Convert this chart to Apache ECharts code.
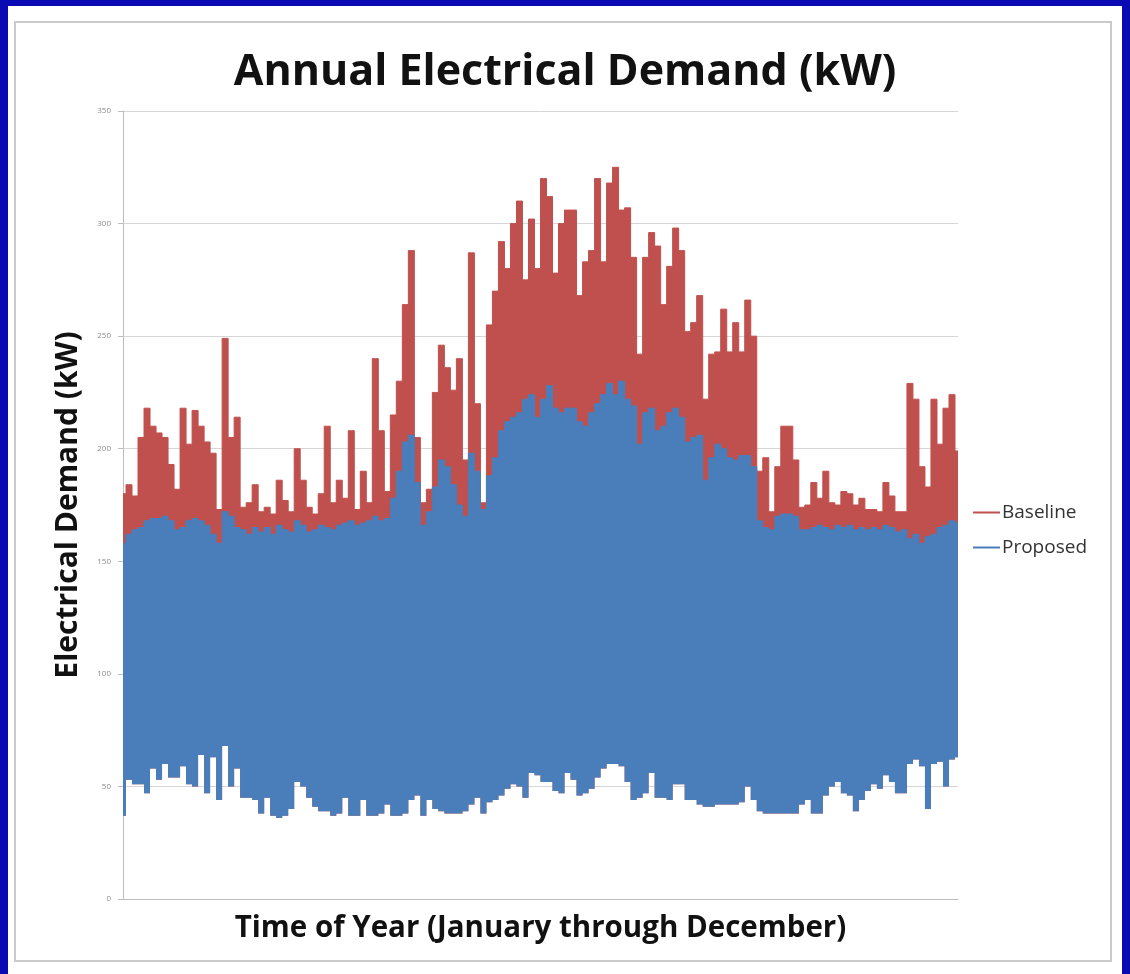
<!DOCTYPE html>
<html>
<head>
<meta charset="utf-8">
<title>Annual Electrical Demand</title>
<script src="https://cdn.jsdelivr.net/npm/echarts@6/dist/echarts.min.js"></script>
<style>
    html, body { margin: 0; padding: 0; }
    body { width: 1130px; height: 974px; background: #0a0ab4; position: relative; overflow: hidden; }
    .slide { position: absolute; left: 8px; top: 6px; width: 1114px; height: 968px; background: #ffffff; }
    .frame { position: absolute; left: 14px; top: 21px; width: 1098px; height: 941px; border: 2px solid #cacaca; box-sizing: border-box; }
    #chart { position: absolute; left: 0; top: 0; width: 1130px; height: 974px; }
</style>
</head>
<body>
<div class="slide"></div>
<div class="frame"></div>
<div id="chart"></div>
<script>
    // samples read across the year, left to right (about every 2.6 days)
    const baselineHigh = [
        180, 184, 179, 205, 218, 210, 207, 205, 193, 182,
        218, 202, 217, 210, 203, 198, 173, 249, 205, 214,
        174, 176, 184, 172, 174, 171, 186, 177, 172, 200,
        186, 174, 171, 180, 210, 176, 186, 178, 208, 173,
        190, 176, 240, 208, 181, 215, 230, 264, 288, 205,
        176, 182, 225, 246, 236, 226, 240, 195, 287, 220,
        176, 255, 270, 292, 280, 300, 310, 275, 302, 280,
        320, 312, 278, 300, 306, 306, 268, 283, 288, 320,
        283, 318, 325, 306, 307, 285, 242, 285, 296, 290,
        264, 281, 298, 288, 252, 256, 268, 222, 242, 243,
        262, 243, 256, 243, 266, 250, 190, 196, 172, 192,
        210, 210, 195, 174, 175, 185, 178, 190, 176, 175,
        181, 180, 175, 178, 173, 173, 172, 185, 179, 172,
        172, 229, 222, 192, 183, 222, 202, 218, 224, 199
    ];
    const proposedHigh = [
        158, 162, 164, 165, 168, 169, 169, 170, 168, 164,
        165, 168, 169, 168, 166, 162, 158, 172, 170, 165,
        164, 162, 165, 163, 165, 162, 166, 164, 163, 168,
        166, 163, 164, 166, 165, 164, 166, 167, 168, 166,
        167, 168, 170, 168, 169, 178, 190, 203, 206, 185,
        166, 172, 183, 195, 192, 184, 175, 170, 198, 190,
        173, 188, 196, 208, 212, 214, 216, 222, 224, 214,
        222, 228, 218, 216, 218, 218, 212, 210, 216, 220,
        224, 229, 224, 230, 222, 219, 202, 216, 218, 208,
        210, 216, 218, 214, 203, 205, 206, 186, 196, 202,
        200, 196, 195, 197, 197, 192, 168, 165, 164, 170,
        171, 171, 170, 164, 164, 165, 166, 165, 164, 166,
        165, 166, 164, 165, 164, 165, 164, 166, 165, 163,
        164, 160, 162, 158, 161, 162, 165, 166, 168, 167
    ];
    const proposedLow = [
        37, 53, 51, 51, 47, 58, 53, 60, 54, 54,
        59, 51, 50, 64, 47, 63, 44, 68, 50, 58,
        45, 45, 44, 38, 45, 37, 36, 37, 40, 52,
        50, 45, 41, 39, 39, 37, 38, 45, 37, 37,
        44, 37, 37, 38, 42, 37, 37, 38, 44, 46,
        37, 44, 40, 39, 38, 38, 38, 39, 42, 45,
        38, 43, 44, 46, 49, 51, 50, 45, 56, 55,
        52, 52, 48, 47, 56, 53, 46, 47, 49, 54,
        58, 60, 60, 59, 52, 44, 45, 47, 56, 45,
        45, 44, 51, 51, 44, 44, 42, 41, 41, 42,
        42, 42, 42, 43, 50, 44, 39, 38, 38, 38,
        38, 38, 38, 42, 44, 38, 38, 46, 50, 52,
        47, 46, 39, 44, 48, 51, 49, 55, 52, 47,
        47, 60, 62, 59, 40, 60, 61, 50, 62, 63
    ];
    const samples = baselineHigh.map((_, i) => 'S' + (i + 1));
    const yTicks = [0, 50, 100, 150, 200, 250, 300, 350];

    const baselineSpan = baselineHigh.map((v, i) => v - proposedLow[i]);
    const proposedSpan = proposedHigh.map((v, i) => v - proposedLow[i]);

    const red = '#c0504d';
    const blue = '#4a7ebb';

    const chart = echarts.init(document.getElementById('chart'));
    chart.setOption({
        animation: false,
        title: {
            text: 'Annual Electrical Demand (kW)',
            left: 'center',
            top: 46,
            textStyle: {
                fontFamily: 'Open Sans',
                fontWeight: 'bold',
                fontSize: 43,
                color: '#111111',
            },
        },
        legend: {
            orient: 'vertical',
            left: 968,
            top: 498,
            itemWidth: 27,
            itemHeight: 2,
            itemGap: 16,
            icon: 'rect',
            data: ['Baseline', 'Proposed'],
            textStyle: {
                fontFamily: 'Open Sans',
                fontSize: 19,
                color: '#333333',
                padding: [0, 0, 0, -3],
            },
        },
        grid: {
            left: 123,
            right: 172,
            top: 111,
            bottom: 75,
        },
        xAxis: {
            type: 'category',
            data: samples,
            boundaryGap: false,
            name: 'Time of Year (January through December)',
            nameLocation: 'middle',
            nameGap: 15,
            nameTextStyle: {
                fontFamily: 'Open Sans',
                fontWeight: 'bold',
                fontSize: 29.5,
                color: '#111111',
            },
            axisLine: { lineStyle: { color: '#bdbdbd', width: 1 } },
            axisTick: { show: false },
            axisLabel: { show: false },
        },
        yAxis: {
            type: 'value',
            min: yTicks[0],
            max: yTicks[yTicks.length - 1],
            interval: 50,
            name: 'Electrical Demand (kW)',
            nameLocation: 'middle',
            nameGap: 40,
            nameTextStyle: {
                fontFamily: 'Open Sans',
                fontWeight: 'bold',
                fontSize: 30,
                color: '#111111',
            },
            axisLine: { show: true, lineStyle: { color: '#bdbdbd', width: 1 } },
            axisTick: { show: true, length: 5, lineStyle: { color: '#bdbdbd' } },
            axisLabel: {
                margin: 12,
                fontSize: 8,
                fontFamily: 'Open Sans',
                color: '#8a8a8a',
            },
            splitLine: { lineStyle: { color: '#d6d6d6', width: 1 } },
        },
        series: [
            {
                name: 'baseline-floor',
                type: 'line',
                stack: 'baseline',
                step: 'middle',
                data: proposedLow,
                symbol: 'none',
                silent: true,
                lineStyle: { opacity: 0 },
            },
            {
                name: 'Baseline',
                type: 'line',
                stack: 'baseline',
                step: 'middle',
                data: baselineSpan,
                symbol: 'none',
                color: red,
                lineStyle: { color: red, width: 1 },
                areaStyle: { color: red, opacity: 1 },
            },
            {
                name: 'proposed-floor',
                type: 'line',
                stack: 'proposed',
                step: 'middle',
                data: proposedLow,
                symbol: 'none',
                silent: true,
                lineStyle: { opacity: 0 },
            },
            {
                name: 'Proposed',
                type: 'line',
                stack: 'proposed',
                step: 'middle',
                data: proposedSpan,
                symbol: 'none',
                color: blue,
                lineStyle: { color: blue, width: 1 },
                areaStyle: { color: blue, opacity: 1 },
            },
        ],
    });
</script>
</body>
</html>
